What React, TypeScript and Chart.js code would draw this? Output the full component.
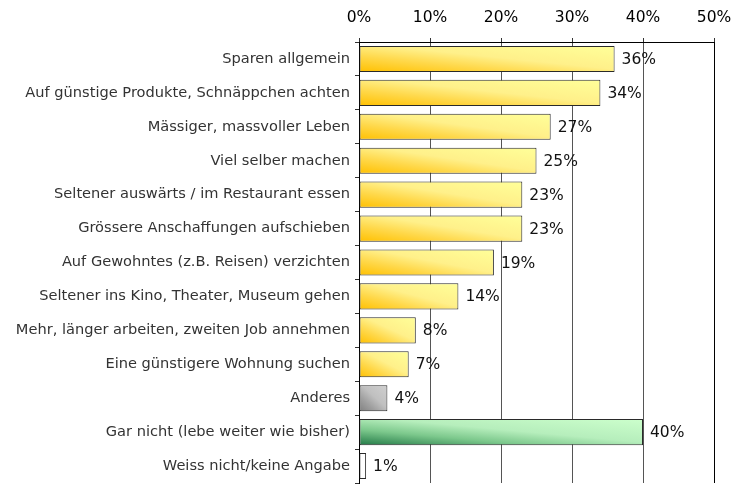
import React, { useEffect, useRef } from "react";
import { Chart, registerables } from "chart.js";

Chart.register(...registerables);

const categories = [
  "Sparen allgemein",
  "Auf günstige Produkte, Schnäppchen achten",
  "Mässiger, massvoller Leben",
  "Viel selber machen",
  "Seltener auswärts / im Restaurant essen",
  "Grössere Anschaffungen aufschieben",
  "Auf Gewohntes (z.B. Reisen) verzichten",
  "Seltener ins Kino, Theater, Museum gehen",
  "Mehr, länger arbeiten, zweiten Job annehmen",
  "Eine günstigere Wohnung suchen",
  "Anderes",
  "Gar nicht (lebe weiter wie bisher)",
  "Weiss nicht/keine Angabe",
];
const values = [36, 34, 27, 25, 23, 23, 19, 14, 8, 7, 4, 40, 1];
const barKinds = ["y", "y", "y", "y", "y", "y", "y", "y", "y", "y", "g", "n", "w"];
const xTicks = [0, 10, 20, 30, 40, 50];

const palettes: Record<string, string[]> = {
  y: ["#FFC000", "#FFD84A", "#FFF08A", "#FFFF99"],
  g: ["#808080", "#A0A0A0", "#C0C0C0", "#D0D0D0"],
  n: ["#237A47", "#7CC88C", "#B6EEBC", "#CCFFCC"],
  w: ["#FFFFFF", "#FFFFFF", "#FFFFFF", "#FFFFFF"],
};

const FONT = "'DejaVu Sans', Verdana, sans-serif";
const BAR_HALF = 13;

const valueLabels = {
  id: "valueLabels",
  afterDatasetsDraw(chart: any) {
    const ctx = chart.ctx;
    const meta = chart.getDatasetMeta(0);
    ctx.save();
    ctx.font = `15.5px ${FONT}`;
    ctx.fillStyle = "#111";
    ctx.textAlign = "left";
    ctx.textBaseline = "middle";
    meta.data.forEach((el: any, i: number) => {
      ctx.fillText(values[i] + "%", el.x + 7, el.y + 1);
    });
    ctx.restore();
  },
};

export default function App() {
  const ref = useRef<HTMLCanvasElement>(null);
  useEffect(() => {
    if (!ref.current) return;
    const chart = new Chart(ref.current, {
      type: "bar",
      data: {
        labels: categories,
        datasets: [
          {
            data: values,
            borderColor: "#2a2a2a",
            borderWidth: 1,
            borderSkipped: false,
            barPercentage: 0.77,
            categoryPercentage: 1,
            backgroundColor: (c: any) => {
              const chartRef = c.chart;
              const xs = chartRef.scales?.x;
              const ys = chartRef.scales?.y;
              const i = c.dataIndex;
              const pal = palettes[barKinds[i]] || palettes.y;
              if (!xs || !ys || i === undefined) return pal[2];
              const x0 = xs.getPixelForValue(0);
              const x1 = xs.getPixelForValue(values[i]);
              const yc = ys.getPixelForValue(i);
              if (![x0, x1, yc].every((v) => Number.isFinite(v)) || x1 <= x0) return pal[2];
              const W = x1 - x0;
              const H = 2 * BAR_HALF;
              const gx = 1 / W;
              const gy = -1 / H;
              const n2 = gx * gx + gy * gy;
              const px = x0;
              const py = yc + BAR_HALF;
              const g = chartRef.ctx.createLinearGradient(px, py, px + (2 * gx) / n2, py + (2 * gy) / n2);
              g.addColorStop(0, pal[0]);
              g.addColorStop(0.3, pal[1]);
              g.addColorStop(0.55, pal[2]);
              g.addColorStop(1, pal[3]);
              return g;
            },
          },
        ],
      },
      options: {
        indexAxis: "y",
        animation: false,
        responsive: true,
        maintainAspectRatio: false,
        layout: { padding: { left: 0, right: 22, top: 0, bottom: 3 } },
        plugins: { legend: { display: false }, tooltip: { enabled: false } },
        scales: {
          x: {
            position: "top",
            min: 0,
            max: 50,
            afterFit: (s: any) => {
              s.height = 42;
              s.paddingLeft = 0;
              s.paddingRight = 0;
            },
            afterBuildTicks: (s: any) => {
              s.ticks = xTicks.map((v) => ({ value: v }));
            },
            ticks: {
              callback: (v: any) => v + "%",
              color: "#000",
              font: { family: FONT, size: 15.5 },
              padding: 11,
              maxRotation: 0,
            },
            grid: {
              color: (c: any) => (c.tick && c.tick.value === 50 ? "#000" : "#555"),
              lineWidth: 1,
              tickLength: 4,
              tickColor: "#333",
            },
            border: { display: true, color: "#000", width: 1 },
          },
          y: {
            afterFit: (s: any) => {
              s.width = 359;
              s.paddingTop = 0;
              s.paddingBottom = 0;
            },
            ticks: {
              color: "#333",
              font: { family: FONT, size: 14.6 },
              padding: 5,
              autoSkip: false,
            },
            grid: {
              drawOnChartArea: false,
              drawTicks: true,
              tickLength: 4,
              tickColor: "#333",
              offset: true,
            },
            border: { display: true, color: "#000", width: 1 },
          },
        },
      },
      plugins: [valueLabels],
    });
    return () => chart.destroy();
  }, []);
  return (
    <div style={{ position: "fixed", left: 0, top: 0, width: 736, height: 486, background: "#fff" }}>
      <canvas ref={ref} />
    </div>
  );
}
